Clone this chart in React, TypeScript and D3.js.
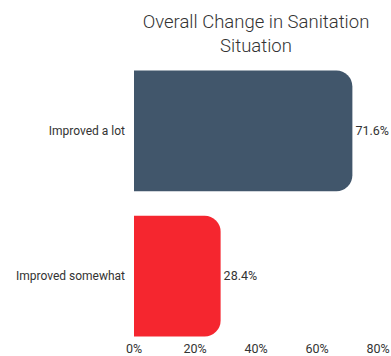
import React from "react";
import * as d3 from "d3";

const categories = ["Improved a lot", "Improved somewhat"];
const values = [71.6, 28.4];
const colors = ["#41566b", "#f5262f"];
const ticks = [0, 20, 40, 60, 80];
const titleLines = ["Overall Change in Sanitation", "Situation"];

const W = 391;
const H = 356;
const FONT = "Roboto, 'Noto Sans', sans-serif";

export default function App() {
  const x = d3.scaleLinear().domain([0, 80]).range([134, 378]);
  const y = d3.scaleBand<string>().domain(categories).range([59, 348]).paddingInner(0.17).paddingOuter(0.08);
  const bw = y.bandwidth();
  const r = 16;

  const barPath = (x0: number, x1: number, y0: number, h: number) => {
    const rr = Math.min(r, (x1 - x0), h / 2);
    const p = d3.path();
    p.moveTo(x0, y0);
    p.lineTo(x1 - rr, y0);
    p.arcTo(x1, y0, x1, y0 + rr, rr);
    p.lineTo(x1, y0 + h - rr);
    p.arcTo(x1, y0 + h, x1 - rr, y0 + h, rr);
    p.lineTo(x0, y0 + h);
    p.closePath();
    return p.toString();
  };

  return (
    <svg width={W} height={H} style={{ position: "absolute", left: 0, top: 0 }} fontFamily={FONT}>
      <rect width={W} height={H} fill="#fff" />
      {titleLines.map((t, i) => (
        <text key={i} x={256} y={28 + i * 24} textAnchor="middle" fontSize={18.5} fontWeight={300} fill="#333">
          {t}
        </text>
      ))}
      {categories.map((c, i) => {
        const y0 = y(c)!;
        return (
          <g key={c}>
            <path d={barPath(x(0), x(values[i]), y0, bw)} fill={colors[i]} />
            <text x={125} y={y0 + bw / 2} dy="0.35em" textAnchor="end" fontSize={12} fill="#333">
              {c}
            </text>
            <text x={x(values[i]) + 3} y={y0 + bw / 2} dy="0.35em" textAnchor="start" fontSize={12.5} fill="#333">
              {values[i].toFixed(1)}%
            </text>
          </g>
        );
      })}
      {ticks.map((t) => (
        <text key={t} x={x(t)} y={353} textAnchor="middle" fontSize={12.5} fill="#333">
          {t}%
        </text>
      ))}
    </svg>
  );
}
